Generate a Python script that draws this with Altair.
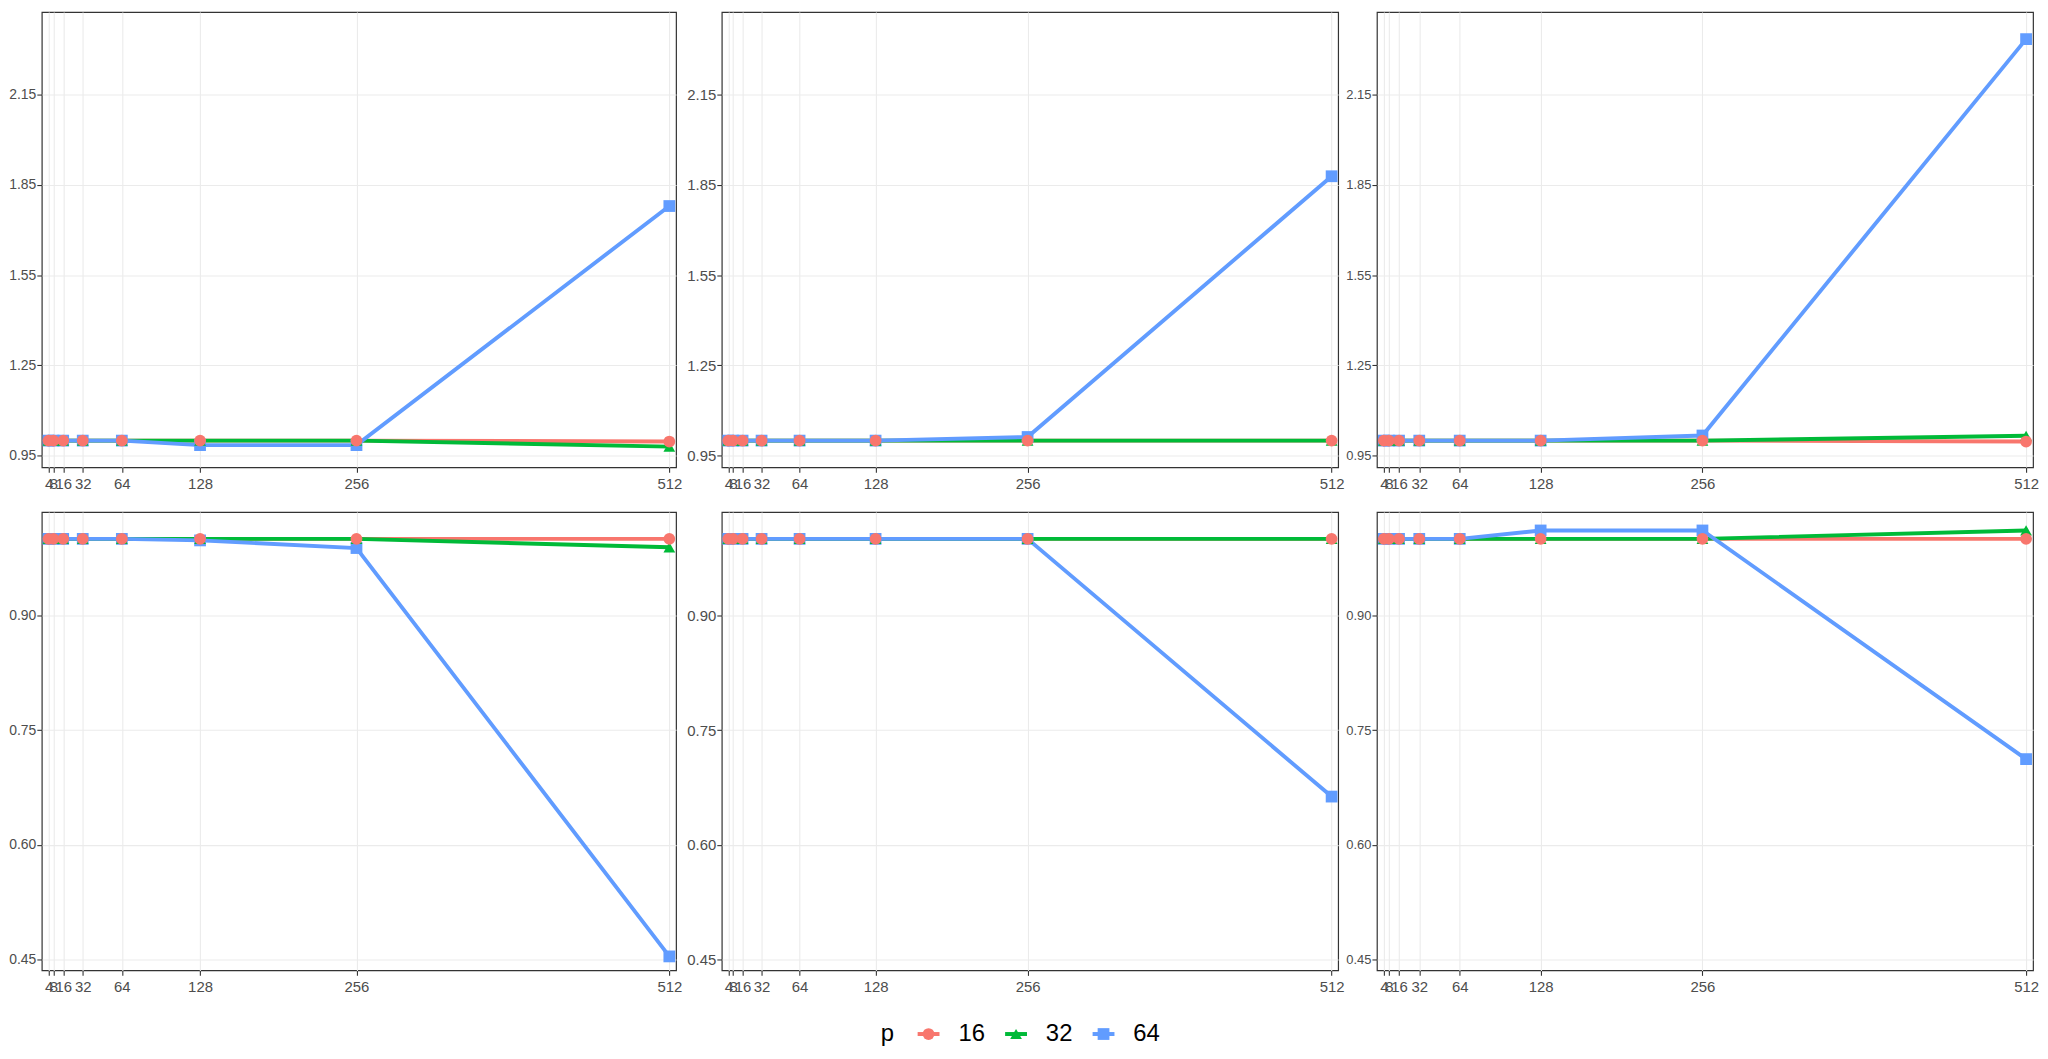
import altair as alt
import pandas as pd

x_vals = [4, 8, 16, 32, 64, 128, 256, 512]
p_levels = ["16", "32", "64"]
legend_title = "p"
colors = ["#F8766D", "#00BA38", "#619CFF"]
shapes = ["circle", "triangle-up", "square"]

top_y_ticks = [0.95, 1.25, 1.55, 1.85, 2.15]
bot_y_ticks = [0.45, 0.60, 0.75, 0.90]

# top row
top1_p16 = [1.000, 1.000, 1.000, 1.000, 1.000, 1.000, 1.000, 0.997]
top1_p32 = [1.000, 1.000, 1.000, 1.000, 1.000, 1.000, 1.000, 0.980]
top1_p64 = [1.000, 1.000, 1.000, 1.000, 1.000, 0.985, 0.985, 1.780]
top2_p16 = [1.000, 1.000, 1.000, 1.000, 1.000, 1.000, 1.000, 1.000]
top2_p32 = [1.000, 1.000, 1.000, 1.000, 1.000, 1.000, 1.000, 1.000]
top2_p64 = [1.000, 1.000, 1.000, 1.000, 1.000, 1.000, 1.012, 1.879]
top3_p16 = [1.000, 1.000, 1.000, 1.000, 1.000, 1.000, 1.000, 0.997]
top3_p32 = [1.000, 1.000, 1.000, 1.000, 1.000, 1.000, 1.000, 1.016]
top3_p64 = [1.000, 1.000, 1.000, 1.000, 1.000, 1.000, 1.017, 2.335]
# bottom row
bot1_p16 = [1.000, 1.000, 1.000, 1.000, 1.000, 1.000, 1.000, 1.000]
bot1_p32 = [1.000, 1.000, 1.000, 1.000, 1.000, 1.000, 1.000, 0.989]
bot1_p64 = [1.000, 1.000, 1.000, 1.000, 1.000, 0.998, 0.988, 0.454]
bot2_p16 = [1.000, 1.000, 1.000, 1.000, 1.000, 1.000, 1.000, 1.000]
bot2_p32 = [1.000, 1.000, 1.000, 1.000, 1.000, 1.000, 1.000, 1.000]
bot2_p64 = [1.000, 1.000, 1.000, 1.000, 1.000, 1.000, 1.000, 0.663]
bot3_p16 = [1.000, 1.000, 1.000, 1.000, 1.000, 1.000, 1.000, 1.000]
bot3_p32 = [1.000, 1.000, 1.000, 1.000, 1.000, 1.000, 1.000, 1.011]
bot3_p64 = [1.000, 1.000, 1.000, 1.000, 1.000, 1.011, 1.011, 0.712]

panels = {
    "top1": [top1_p16, top1_p32, top1_p64],
    "top2": [top2_p16, top2_p32, top2_p64],
    "top3": [top3_p16, top3_p32, top3_p64],
    "bot1": [bot1_p16, bot1_p32, bot1_p64],
    "bot2": [bot2_p16, bot2_p32, bot2_p64],
    "bot3": [bot3_p16, bot3_p32, bot3_p64],
}

rows = []
for name, series in panels.items():
    for p, vals in zip(p_levels, series):
        for x, v in zip(x_vals, vals):
            rows.append({"panel": name, "p": p, "x": x, "y": v})
df = pd.DataFrame(rows)

FONT = "Liberation Sans"
color_enc = alt.Color("p:N", scale=alt.Scale(domain=p_levels, range=colors), legend=None)
shape_enc = alt.Shape("p:N", scale=alt.Scale(domain=p_levels, range=shapes), legend=None)
size_enc = alt.Size("p:O", scale=alt.Scale(domain=p_levels, range=[140, 140, 170]), legend=None)


def panel(name, width, height, ydom, yticks, yext, ylab_size, xext):
    sub = df[df.panel == name]
    sub_rev = sub.iloc[::-1]
    xsc = alt.Scale(domain=[-1.5, 517.5], nice=False, zero=False)
    ysc = alt.Scale(domain=ydom, nice=False, zero=False)
    xaxis = alt.Axis(values=x_vals, title=None, labelOverlap=False, labelFlush=False,
                     grid=True, tickSize=5, labelPadding=4, labelFontSize=15,
                     minExtent=xext, maxExtent=xext, format="d")
    yaxis = alt.Axis(values=yticks, title=None, format=".2f", grid=True, tickSize=5,
                     labelPadding=1, labelFontSize=ylab_size,
                     minExtent=yext, maxExtent=yext)
    lines = alt.Chart(sub).mark_line(strokeWidth=3.9).encode(
        x=alt.X("x:Q", scale=xsc, axis=xaxis),
        y=alt.Y("y:Q", scale=ysc, axis=yaxis),
        color=color_enc,
    )
    pts = alt.Chart(sub_rev).mark_point(filled=True, opacity=1).encode(
        x=alt.X("x:Q"),
        y=alt.Y("y:Q"),
        color=color_enc,
        shape=shape_enc,
        size=size_enc,
    )
    return alt.layer(lines, pts).properties(width=width, height=height)


top_dom = [0.911, 2.425]
bot_dom = [0.4357, 1.035]

row1 = alt.hconcat(
    panel("top1", 638, 458, top_dom, top_y_ticks, 33, 14, 43),
    panel("top2", 620, 458, top_dom, top_y_ticks, 38.3, 15, 43),
    panel("top3", 660, 458, top_dom, top_y_ticks, 25.1, 13, 43),
    spacing=0,
)
row2 = alt.hconcat(
    panel("bot1", 638, 461, bot_dom, bot_y_ticks, 33, 14, 47),
    panel("bot2", 620, 461, bot_dom, bot_y_ticks, 38.3, 15, 47),
    panel("bot3", 660, 461, bot_dom, bot_y_ticks, 25.1, 13, 47),
    spacing=0,
)

leg_df = pd.DataFrame({"p": p_levels})
title_df = pd.DataFrame({"p": [p_levels[0]], "t": [legend_title]})
lx = alt.X("p:N", scale=alt.Scale(type="point", domain=p_levels, range=[892, 1068], padding=0),
           axis=None)
leg_rule = alt.Chart(leg_df).mark_rule(strokeWidth=4, xOffset=-11, x2Offset=11).encode(
    x=lx, x2=alt.X2("p:N"), y=alt.value(15), color=color_enc)
leg_pts = alt.Chart(leg_df).mark_point(filled=True, opacity=1).encode(
    x=lx, y=alt.value(15), color=color_enc, shape=shape_enc,
    size=alt.Size("p:O", scale=alt.Scale(domain=p_levels, range=[90, 80, 70]), legend=None))
leg_txt = alt.Chart(leg_df).mark_text(align="left", baseline="middle", dx=30, fontSize=24,
                                      font=FONT, color="black").encode(
    x=lx, y=alt.value(15), text="p:N")
leg_title = alt.Chart(title_df).mark_text(align="left", baseline="middle", dx=-48, fontSize=24,
                                          font=FONT, color="black").encode(
    x=lx, y=alt.value(15), text="t:N")
legend = alt.layer(leg_rule, leg_pts, leg_txt, leg_title).properties(
    width=1200, height=30, view=alt.ViewBackground(stroke="transparent"))

chart = alt.vconcat(row1, row2, legend, spacing=0).properties(
    padding={"left": 0, "top": 0, "right": 0, "bottom": 0},
    background="white",
).configure_view(
    stroke="#333333", strokeWidth=1.2
).configure_axis(
    gridColor="#EBEBEB", gridWidth=1.1, tickColor="#333333", tickWidth=1.1,
    labelColor="#4D4D4D", labelFont=FONT, domain=False,
)

chart.save("out.html", embed_options={"renderer": "svg", "actions": False})
